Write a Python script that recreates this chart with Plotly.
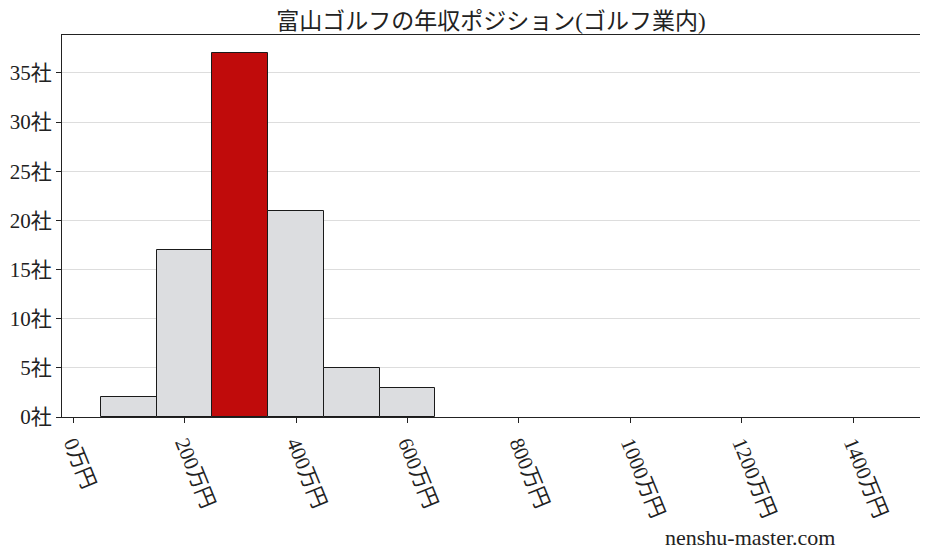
import plotly.graph_objects as go

bin_centers = [100, 200, 300, 400, 500, 600]
bin_width = 100
counts = [2, 17, 37, 21, 5, 3]
highlight_index = 2
x_ticks = [0, 200, 400, 600, 800, 1000, 1200, 1400]
x_tick_labels = [f"{v}万円" for v in x_ticks]
y_ticks = [0, 5, 10, 15, 20, 25, 30, 35]
y_tick_labels = [f"{v}社" for v in y_ticks]
title = "富山ゴルフの年収ポジション(ゴルフ業内)"
watermark = "nenshu-master.com"

FONT = "Liberation Serif, Noto Sans CJK JP, serif"
colors = ["#c00b0b" if i == highlight_index else "#dcdde0" for i in range(len(counts))]

OFF = 8
L, R, T, B = 62 - OFF, 920 - OFF, 35 - OFF, 417 - OFF
W, H = 928, 557

fig = go.Figure(go.Bar(
    x=bin_centers, y=counts, width=bin_width,
    marker=dict(color=colors, line=dict(color="#1a1a1a", width=1)),
))
fig.update_layout(
    width=W, height=H,
    margin=dict(l=L, r=W - R, t=T, b=H - B, autoexpand=False),
    paper_bgcolor="white", plot_bgcolor="white",
    font=dict(family=FONT, color="#222222", size=21),
    title=dict(text=title, x=(L + R) / 2 / W, xanchor="center", xref="container",
               y=1 - (21 - OFF) / H, yref="container", yanchor="middle",
               font=dict(size=23, family=FONT, color="#222222")),
    showlegend=False,
    bargap=0,
)
fig.update_xaxes(
    range=[-20, 1520], tickvals=x_ticks, ticktext=x_tick_labels, tickangle=68,
    ticks="outside", ticklen=5, tickcolor="#222222", showgrid=False, automargin=False,
    showline=True, linecolor="#222222", linewidth=1, mirror=True, zeroline=False,
    tickfont=dict(size=21, family=FONT),
)
fig.update_yaxes(
    range=[0, 38.85], tickvals=y_ticks, ticktext=y_tick_labels, automargin=False,
    ticks="outside", ticklen=5, tickcolor="#222222", showgrid=True, gridcolor="#dddddd",
    showline=True, linecolor="#222222", linewidth=1, mirror=True, zeroline=False,
    tickfont=dict(size=21, family=FONT),
)
fig.add_annotation(text=watermark, xref="paper", yref="paper", showarrow=False,
                   x=(750 - OFF - L) / (R - L), y=-(537 - OFF - B) / (B - T),
                   xanchor="center", yanchor="middle",
                   font=dict(size=22, family=FONT, color="#222222"))
fig.write_html("out.html")
